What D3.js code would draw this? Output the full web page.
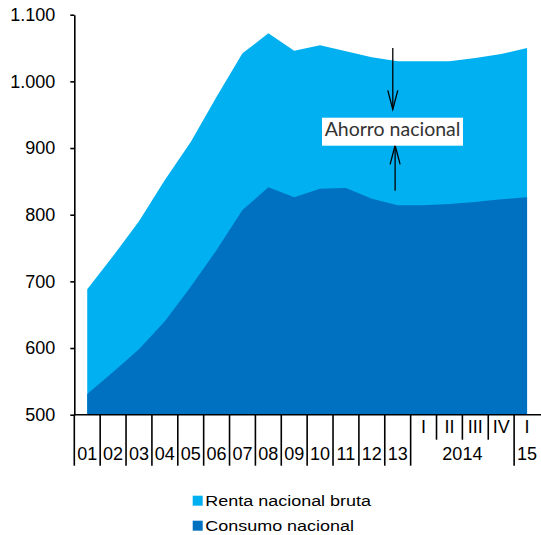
<!DOCTYPE html>
<html>
<head>
<meta charset="utf-8">
<script src="https://cdn.jsdelivr.net/npm/d3@7"></script>
<style>
body{margin:0;background:#fff;}
svg{display:block;}
</style>
</head>
<body>
<script>
//---------------------------------- datos
var cats     = ["01","02","03","04","05","06","07","08","09","10","11","12","13","I14","II14","III14","IV14","I15"];
var catYear  = ["01","02","03","04","05","06","07","08","09","10","11","12","13","2014","2014","2014","2014","15"];
var catTrim  = ["","","","","","","","","","","","","","I","II","III","IV","I"];
var renta    = [688,738,790,852,909,977,1042,1072,1046,1054,1045,1036,1030,1030,1030,1035,1041,1050];
var consumo  = [531,564,598,640,692,747,807,841,826,839,840,824,814,814,816,819,823,826];
var yTicks   = [500,600,700,800,900,1000,1100];
var series   = [
	{nombre:"Renta nacional bruta", valores:renta,   color:"#00B0F0"},
	{nombre:"Consumo nacional",     valores:consumo, color:"#0070C0"}
];
//----------------------------------
var ancho=541, alto=535;
var margen={top:14.7,left:74.3,right:1,bottom:120.3};

var svg = d3.select("body").append("svg")
	.attr("width",ancho)
	.attr("height",alto);

var x = d3.scaleBand().domain(cats).range([margen.left, ancho-margen.right]).padding(0);
var y = d3.scaleLinear().domain([500,1100]).range([alto-margen.bottom, margen.top]);

var es = d3.formatLocale({decimal:",",thousands:".",grouping:[3],currency:["","€"]});
var fmt = es.format(",");

function cx(i){ return x(cats[i]) + x.bandwidth()/2; }

//---------------------------------- areas
series.forEach(function (s){
	var area = d3.area()
		.x(function (d,i){ return cx(i); })
		.y0(y(500))
		.y1(function (d){ return y(d); });
	svg.append("path")
		.datum(s.valores)
		.attr("fill",s.color)
		.attr("d",area);
});

//---------------------------------- eje y
var ejeY = svg.append("g")
	.attr("transform","translate("+margen.left+",0)")
	.call(d3.axisLeft(y).tickValues(yTicks).tickFormat(fmt).tickSize(4).tickSizeOuter(0).tickPadding(15));
ejeY.select(".domain").attr("stroke","#000").attr("stroke-width",1.6);
ejeY.selectAll(".tick line").attr("stroke","#000").attr("stroke-width",1.6);
ejeY.selectAll("text")
	.attr("fill","#000")
	.style("font-family","'Liberation Sans', Arial, sans-serif")
	.style("font-size","18px");

//---------------------------------- eje x (dos niveles)
var base = y(500);
svg.append("line")
	.attr("x1",margen.left).attr("x2",ancho)
	.attr("y1",base).attr("y2",base)
	.attr("stroke","#000").attr("stroke-width",1.6);

var grupos = [];
catYear.forEach(function (a,i){
	if (!grupos.length || grupos[grupos.length-1].label!==a)
		grupos.push({label:a, ini:i, fin:i});
	else
		grupos[grupos.length-1].fin=i;
});

var ejeX = svg.append("g")
	.style("font-family","'Liberation Sans', Arial, sans-serif")
	.style("font-size","18px")
	.attr("fill","#000");

cats.forEach(function (c,i){
	var inicio = grupos.some(function (g){ return g.ini===i; });
	ejeX.append("line")
		.attr("x1",x(c)).attr("x2",x(c))
		.attr("y1",base).attr("y2",inicio ? base+51 : base+25)
		.attr("stroke","#000").attr("stroke-width",1.6);
	if (catTrim[i])
		ejeX.append("text")
			.attr("x",cx(i)).attr("y",base+18.5)
			.attr("text-anchor","middle")
			.text(catTrim[i]);
});

grupos.forEach(function (g){
	var xm = (x(cats[g.ini]) + x(cats[g.fin]) + x.bandwidth())/2;
	ejeX.append("text")
		.attr("x",xm).attr("y",base+45.5)
		.attr("text-anchor","middle")
		.text(g.label);
});

//---------------------------------- anotacion ahorro
var xa = x("13") + x.bandwidth()*0.31;
var xb = x("13") + x.bandwidth()*0.40;
function flecha(xp, vDesde, vHasta)
{
	var y1=y(vDesde), y2=y(vHasta), dir = y2>y1 ? -1 : 1;
	svg.append("line")
		.attr("x1",xp).attr("x2",xp).attr("y1",y1).attr("y2",y2)
		.attr("stroke","#000").attr("stroke-width",1.3);
	svg.append("path")
		.attr("d","M"+(xp-5)+","+(y2+dir*19)+"L"+xp+","+y2+"L"+(xp+5)+","+(y2+dir*19))
		.attr("fill","none").attr("stroke","#000").attr("stroke-width",1.3);
}
flecha(xa, 1050, 958);
flecha(xb, 836, 904);

var ly = y(924.5);
svg.append("rect")
	.attr("x",322).attr("y",ly-14)
	.attr("width",141).attr("height",28)
	.attr("fill","#fff");
svg.append("text")
	.attr("x",392.5).attr("y",ly+4.5)
	.attr("text-anchor","middle")
	.attr("fill","#333")
	.style("font-family","Lato, 'Open Sans', sans-serif")
	.style("font-size","19.5px")
	.text("Ahorro nacional");

//---------------------------------- leyenda
var ley = svg.append("g").attr("transform","translate(192.7,495.7)");
series.forEach(function (s,i){
	var g = ley.append("g").attr("transform","translate(0,"+(i*25)+")");
	g.append("rect").attr("width",10).attr("height",10).attr("fill",s.color);
	g.append("text")
		.attr("transform","translate(12.5,10.3) scale(1.24,1)")
		.attr("fill","#000")
		.style("font-family","'Liberation Sans', Arial, sans-serif")
		.style("font-size","14.5px")
		.text(s.nombre);
});
</script>
</body>
</html>
